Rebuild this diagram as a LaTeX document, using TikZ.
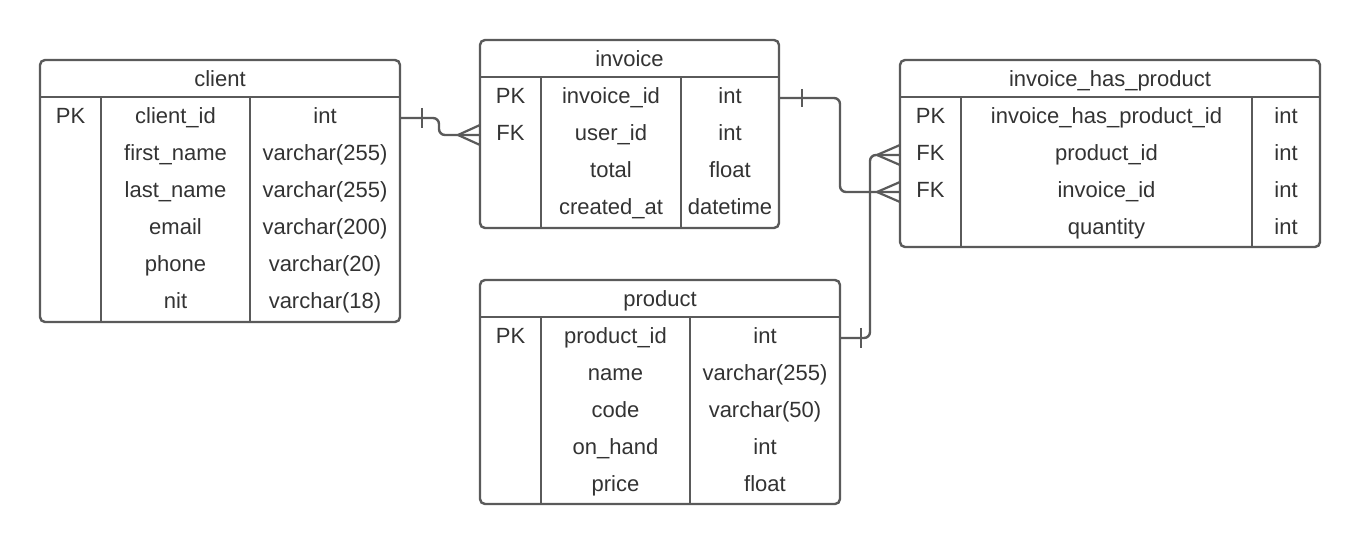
\documentclass[tikz,border=0pt]{standalone}
\usepackage{fontspec}
\setmainfont{Liberation Sans}
\usetikzlibrary{fit,calc}
\definecolor{ln}{HTML}{5A5A5A}
\definecolor{tx}{HTML}{333333}
\tikzset{
  tbl/.style={draw=ln, line width=2.4pt, rounded corners=5pt, inner sep=0pt, outer sep=0pt},
  sep/.style={draw=ln, line width=2.4pt},
  cell/.style={text=tx, font=\fontsize{22}{26}\selectfont, inner sep=0pt, anchor=base},
  conn/.style={draw=ln, line width=2.4pt, rounded corners=6pt},
  mark1/.style={draw=ln, line width=2.2pt},
}
% #1 id, #2 L, #3 R, #4 T, #5 B, #6 col1 x, #7 col2 x, #8 title, #9 rows
\newcommand\ertable[9]{%
  \node[tbl, fit={(#2,#4) (#3,#5)}] (#1) {};
  \draw[sep] (#2,#4+37) -- (#3,#4+37);
  \draw[sep] (#6,#4+37) -- (#6,#5);
  \draw[sep] (#7,#4+37) -- (#7,#5);
  \node[cell] (#1-t) at ({(#2+#3)/2},#4+26.5) {#8};
  \foreach \k/\a/\b [count=\i] in {#9} {
    \node[cell] (#1-k\i) at ({(#2+#6)/2},{#4+26.8+37*\i}) {\k};
    \node[cell] (#1-a\i) at ({(#6+#7)/2},{#4+26.8+37*\i}) {\a};
    \node[cell] (#1-b\i) at ({(#7+#3)/2},{#4+26.8+37*\i}) {\b};
    \coordinate (#1-r\i) at (#2,{#4+21+37*\i});
  }
}
\begin{document}
\begin{tikzpicture}[x=1pt,y=-1pt]
\useasboundingbox[fill=white] (0,0) rectangle (1360,545);

\ertable{client}{40}{400}{60}{322}{101}{250}{client}{PK/client\_id/int, /first\_name/varchar(255), /last\_name/varchar(255), /email/varchar(200), /phone/varchar(20), /nit/varchar(18)}

\ertable{invoice}{480}{779}{40}{228}{541}{681}{invoice}{PK/invoice\_id/int, FK/user\_id/int, /total/float, /created\_at/datetime}

\ertable{ihp}{900}{1320}{60}{247}{961}{1252}{invoice\_has\_product}{PK/invoice\_has\_product\_id/int, FK/product\_id/int, FK/invoice\_id/int, /quantity/int}

\ertable{product}{480}{840}{280}{504}{541}{690}{product}{PK/product\_id/int, /name/varchar(255), /code/varchar(50), /on\_hand/int, /price/float}

\coordinate (j1) at (439,0);
\coordinate (j2) at (840,0);
\coordinate (j3) at (870,0);

% client -> invoice
\draw[conn] (client.east |- client-r1) -| (j1 |- invoice-r2) -- (invoice.west |- invoice-r2);
\draw[mark1] ($(client.east |- client-r1)+(22,-10)$) -- ++(0,20);
\draw[mark1] ($(invoice.west |- invoice-r2)+(-22,0)$) -- ($(invoice.west |- invoice-r2)+(0,-10)$);
\draw[mark1] ($(invoice.west |- invoice-r2)+(-22,0)$) -- ($(invoice.west |- invoice-r2)+(0,10)$);

% invoice -> invoice_has_product (invoice_id)
\draw[conn] (invoice.east |- invoice-r1) -| (j2 |- ihp-r3) -- (ihp.west |- ihp-r3);
\draw[mark1] ($(invoice.east |- invoice-r1)+(23,-9)$) -- ++(0,18);
\draw[mark1] ($(ihp.west |- ihp-r3)+(-23,0)$) -- ($(ihp.west |- ihp-r3)+(0,-10)$);
\draw[mark1] ($(ihp.west |- ihp-r3)+(-23,0)$) -- ($(ihp.west |- ihp-r3)+(0,10)$);

% product -> invoice_has_product (product_id)
\draw[conn] (product.east |- product-r1) -| (j3 |- ihp-r2) -- (ihp.west |- ihp-r2);
\draw[mark1] ($(product.east |- product-r1)+(21,-10)$) -- ++(0,20);
\draw[mark1] ($(ihp.west |- ihp-r2)+(-23,0)$) -- ($(ihp.west |- ihp-r2)+(0,-10)$);
\draw[mark1] ($(ihp.west |- ihp-r2)+(-23,0)$) -- ($(ihp.west |- ihp-r2)+(0,10)$);
\end{tikzpicture}
\end{document}
